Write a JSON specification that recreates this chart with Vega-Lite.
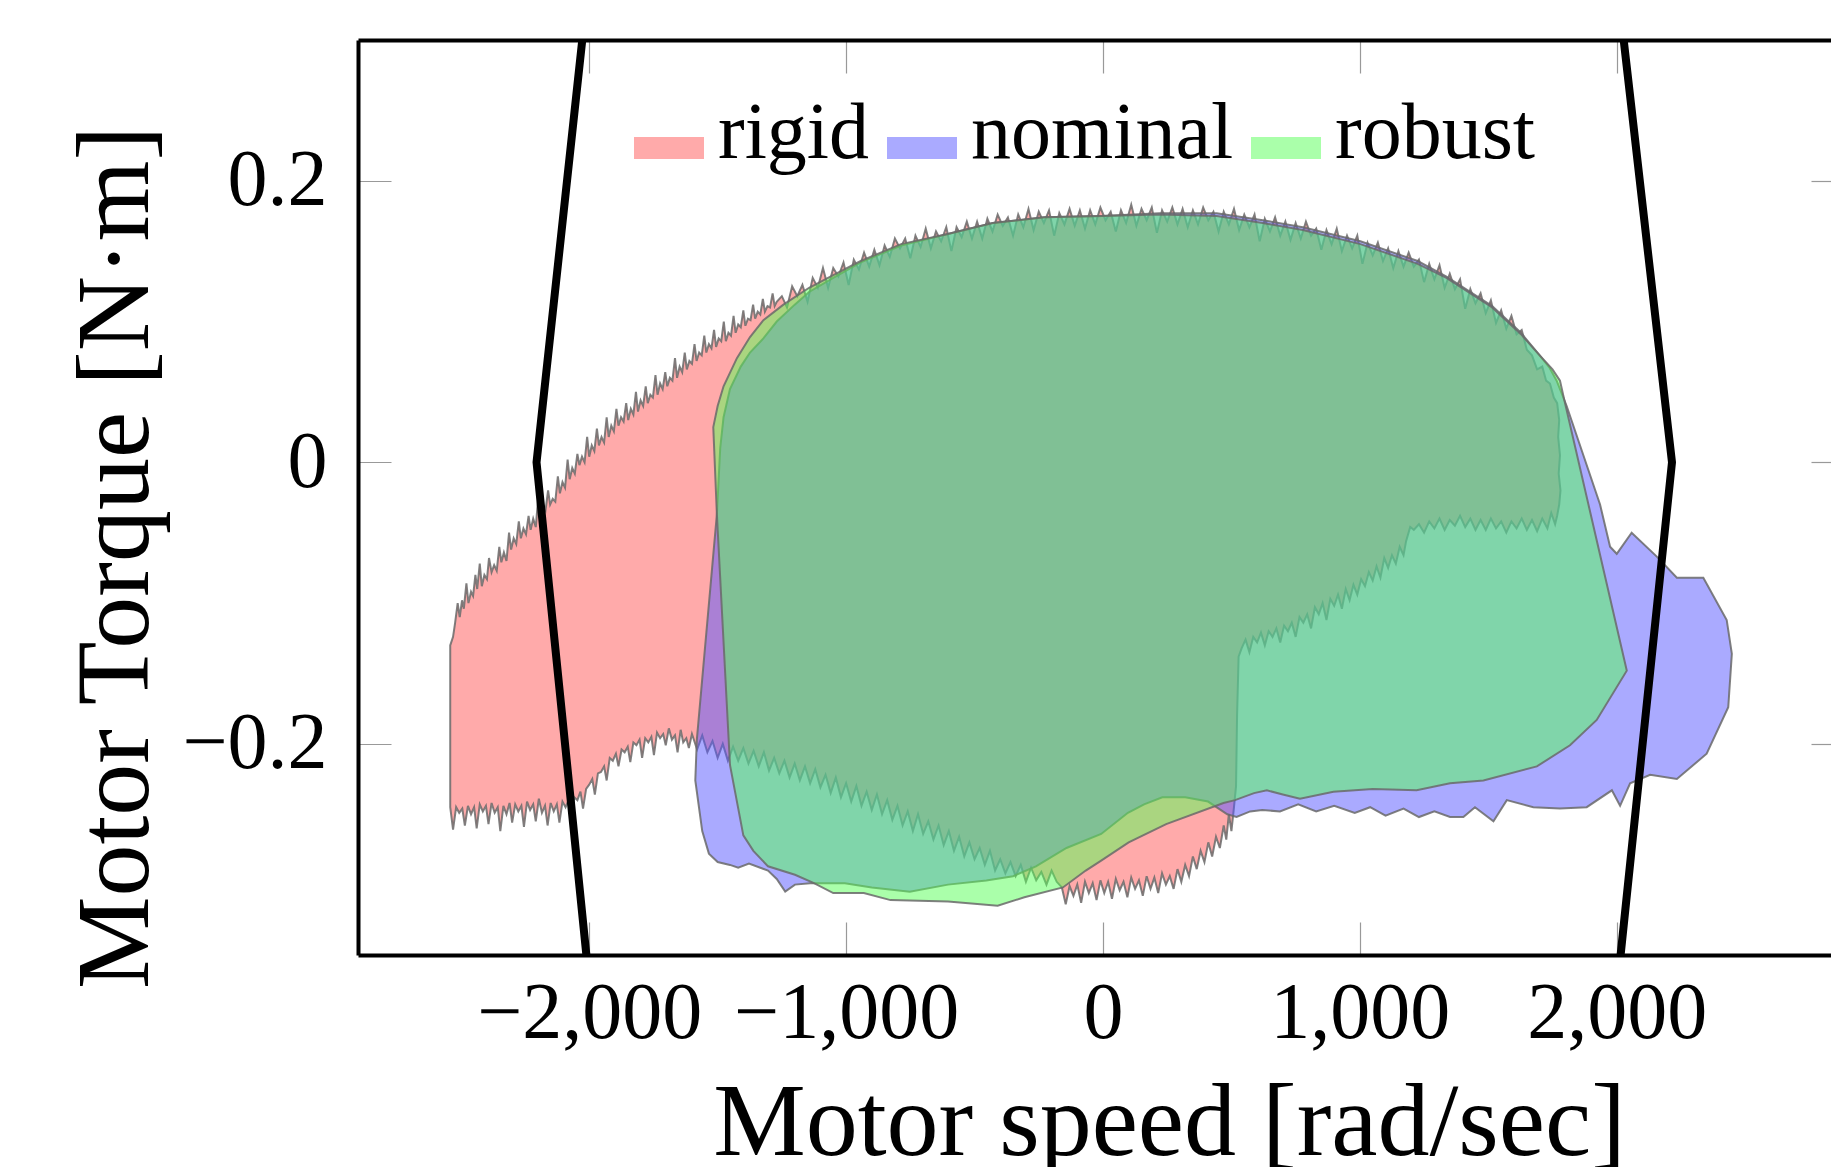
{
"$schema": "https://vega.github.io/schema/vega-lite/v6.json",
"width": 1473,
"height": 915,
"autosize": {"type": "none"},
"padding": {"left": 358, "top": 40, "right": 0, "bottom": 212},
"config": {"view": {"stroke": null}, "font": "Liberation Serif", "background": "white"},
"datasets": {
"poly": [
{"s":"rigid","x":-2541,"y":-0.130},{"s":"rigid","x":-2530,"y":-0.124},{"s":"rigid","x":-2522,"y":-0.114},{"s":"rigid","x":-2512,"y":-0.100},{"s":"rigid","x":-2504,"y":-0.110},{"s":"rigid","x":-2495,"y":-0.098},{"s":"rigid","x":-2488,"y":-0.104},{"s":"rigid","x":-2478,"y":-0.086},{"s":"rigid","x":-2470,"y":-0.100},{"s":"rigid","x":-2460,"y":-0.092},{"s":"rigid","x":-2452,"y":-0.095},{"s":"rigid","x":-2443,"y":-0.080},{"s":"rigid","x":-2436,"y":-0.090},{"s":"rigid","x":-2426,"y":-0.072},{"s":"rigid","x":-2418,"y":-0.088},{"s":"rigid","x":-2408,"y":-0.080},{"s":"rigid","x":-2398,"y":-0.083},{"s":"rigid","x":-2390,"y":-0.068},{"s":"rigid","x":-2380,"y":-0.078},{"s":"rigid","x":-2370,"y":-0.073},{"s":"rigid","x":-2360,"y":-0.077},{"s":"rigid","x":-2350,"y":-0.060},{"s":"rigid","x":-2342,"y":-0.071},{"s":"rigid","x":-2332,"y":-0.064},{"s":"rigid","x":-2322,"y":-0.070},{"s":"rigid","x":-2312,"y":-0.050},{"s":"rigid","x":-2304,"y":-0.062},{"s":"rigid","x":-2294,"y":-0.054},{"s":"rigid","x":-2284,"y":-0.058},{"s":"rigid","x":-2274,"y":-0.042},{"s":"rigid","x":-2266,"y":-0.054},{"s":"rigid","x":-2256,"y":-0.047},{"s":"rigid","x":-2246,"y":-0.051},{"s":"rigid","x":-2236,"y":-0.038},{"s":"rigid","x":-2228,"y":-0.048},{"s":"rigid","x":-2218,"y":-0.040},{"s":"rigid","x":-2208,"y":-0.046},{"s":"rigid","x":-2198,"y":-0.024},{"s":"rigid","x":-2190,"y":-0.040},{"s":"rigid","x":-2180,"y":-0.030},{"s":"rigid","x":-2170,"y":-0.034},{"s":"rigid","x":-2160,"y":-0.020},{"s":"rigid","x":-2152,"y":-0.030},{"s":"rigid","x":-2142,"y":-0.026},{"s":"rigid","x":-2132,"y":-0.028},{"s":"rigid","x":-2122,"y":-0.010},{"s":"rigid","x":-2114,"y":-0.022},{"s":"rigid","x":-2104,"y":-0.014},{"s":"rigid","x":-2094,"y":-0.018},{"s":"rigid","x":-2084,"y":0.002},{"s":"rigid","x":-2076,"y":-0.012},{"s":"rigid","x":-2066,"y":-0.004},{"s":"rigid","x":-2056,"y":-0.008},{"s":"rigid","x":-2046,"y":0.006},{"s":"rigid","x":-2038,"y":-0.002},{"s":"rigid","x":-2028,"y":0.004},{"s":"rigid","x":-2018,"y":0.000},{"s":"rigid","x":-2008,"y":0.018},{"s":"rigid","x":-2000,"y":0.004},{"s":"rigid","x":-1990,"y":0.012},{"s":"rigid","x":-1980,"y":0.008},{"s":"rigid","x":-1970,"y":0.024},{"s":"rigid","x":-1962,"y":0.012},{"s":"rigid","x":-1952,"y":0.018},{"s":"rigid","x":-1942,"y":0.014},{"s":"rigid","x":-1932,"y":0.032},{"s":"rigid","x":-1924,"y":0.018},{"s":"rigid","x":-1914,"y":0.026},{"s":"rigid","x":-1904,"y":0.022},{"s":"rigid","x":-1894,"y":0.038},{"s":"rigid","x":-1886,"y":0.026},{"s":"rigid","x":-1876,"y":0.032},{"s":"rigid","x":-1866,"y":0.029},{"s":"rigid","x":-1856,"y":0.042},{"s":"rigid","x":-1848,"y":0.030},{"s":"rigid","x":-1838,"y":0.038},{"s":"rigid","x":-1828,"y":0.034},{"s":"rigid","x":-1818,"y":0.050},{"s":"rigid","x":-1810,"y":0.036},{"s":"rigid","x":-1800,"y":0.044},{"s":"rigid","x":-1790,"y":0.040},{"s":"rigid","x":-1780,"y":0.054},{"s":"rigid","x":-1772,"y":0.042},{"s":"rigid","x":-1762,"y":0.048},{"s":"rigid","x":-1752,"y":0.046},{"s":"rigid","x":-1742,"y":0.062},{"s":"rigid","x":-1734,"y":0.048},{"s":"rigid","x":-1724,"y":0.056},{"s":"rigid","x":-1714,"y":0.052},{"s":"rigid","x":-1704,"y":0.064},{"s":"rigid","x":-1696,"y":0.054},{"s":"rigid","x":-1686,"y":0.060},{"s":"rigid","x":-1676,"y":0.058},{"s":"rigid","x":-1666,"y":0.074},{"s":"rigid","x":-1658,"y":0.060},{"s":"rigid","x":-1648,"y":0.068},{"s":"rigid","x":-1638,"y":0.064},{"s":"rigid","x":-1628,"y":0.078},{"s":"rigid","x":-1620,"y":0.066},{"s":"rigid","x":-1610,"y":0.072},{"s":"rigid","x":-1600,"y":0.070},{"s":"rigid","x":-1590,"y":0.084},{"s":"rigid","x":-1582,"y":0.072},{"s":"rigid","x":-1572,"y":0.078},{"s":"rigid","x":-1562,"y":0.076},{"s":"rigid","x":-1552,"y":0.090},{"s":"rigid","x":-1544,"y":0.078},{"s":"rigid","x":-1534,"y":0.084},{"s":"rigid","x":-1524,"y":0.081},{"s":"rigid","x":-1514,"y":0.094},{"s":"rigid","x":-1506,"y":0.082},{"s":"rigid","x":-1496,"y":0.088},{"s":"rigid","x":-1486,"y":0.086},{"s":"rigid","x":-1476,"y":0.100},{"s":"rigid","x":-1468,"y":0.086},{"s":"rigid","x":-1458,"y":0.092},{"s":"rigid","x":-1448,"y":0.090},{"s":"rigid","x":-1438,"y":0.104},{"s":"rigid","x":-1430,"y":0.092},{"s":"rigid","x":-1420,"y":0.098},{"s":"rigid","x":-1410,"y":0.096},{"s":"rigid","x":-1400,"y":0.108},{"s":"rigid","x":-1392,"y":0.097},{"s":"rigid","x":-1382,"y":0.102},{"s":"rigid","x":-1372,"y":0.101},{"s":"rigid","x":-1362,"y":0.112},{"s":"rigid","x":-1354,"y":0.102},{"s":"rigid","x":-1344,"y":0.107},{"s":"rigid","x":-1334,"y":0.105},{"s":"rigid","x":-1324,"y":0.116},{"s":"rigid","x":-1316,"y":0.107},{"s":"rigid","x":-1306,"y":0.111},{"s":"rigid","x":-1296,"y":0.110},{"s":"rigid","x":-1286,"y":0.120},{"s":"rigid","x":-1278,"y":0.111},{"s":"rigid","x":-1270,"y":0.114},
{"s":"rigid","x":-1250,"y":0.118},{"s":"rigid","x":-1230,"y":0.110},{"s":"rigid","x":-1210,"y":0.125},{"s":"rigid","x":-1190,"y":0.118},{"s":"rigid","x":-1170,"y":0.126},{"s":"rigid","x":-1150,"y":0.114},{"s":"rigid","x":-1130,"y":0.131},{"s":"rigid","x":-1110,"y":0.124},{"s":"rigid","x":-1090,"y":0.138},{"s":"rigid","x":-1070,"y":0.124},{"s":"rigid","x":-1050,"y":0.138},{"s":"rigid","x":-1030,"y":0.132},{"s":"rigid","x":-1010,"y":0.142},{"s":"rigid","x":-990,"y":0.126},{"s":"rigid","x":-970,"y":0.144},{"s":"rigid","x":-950,"y":0.137},{"s":"rigid","x":-930,"y":0.149},{"s":"rigid","x":-910,"y":0.139},{"s":"rigid","x":-890,"y":0.151},{"s":"rigid","x":-870,"y":0.140},{"s":"rigid","x":-850,"y":0.154},{"s":"rigid","x":-830,"y":0.146},{"s":"rigid","x":-810,"y":0.159},{"s":"rigid","x":-790,"y":0.152},{"s":"rigid","x":-770,"y":0.159},{"s":"rigid","x":-750,"y":0.145},{"s":"rigid","x":-730,"y":0.161},{"s":"rigid","x":-710,"y":0.153},{"s":"rigid","x":-690,"y":0.166},{"s":"rigid","x":-670,"y":0.152},{"s":"rigid","x":-650,"y":0.164},{"s":"rigid","x":-630,"y":0.157},{"s":"rigid","x":-610,"y":0.167},{"s":"rigid","x":-590,"y":0.150},{"s":"rigid","x":-570,"y":0.167},{"s":"rigid","x":-550,"y":0.160},{"s":"rigid","x":-530,"y":0.171},{"s":"rigid","x":-510,"y":0.159},{"s":"rigid","x":-490,"y":0.171},{"s":"rigid","x":-470,"y":0.159},{"s":"rigid","x":-450,"y":0.173},{"s":"rigid","x":-430,"y":0.164},{"s":"rigid","x":-410,"y":0.176},{"s":"rigid","x":-390,"y":0.168},{"s":"rigid","x":-370,"y":0.174},{"s":"rigid","x":-350,"y":0.161},{"s":"rigid","x":-330,"y":0.176},{"s":"rigid","x":-310,"y":0.167},{"s":"rigid","x":-290,"y":0.180},{"s":"rigid","x":-270,"y":0.165},{"s":"rigid","x":-250,"y":0.178},{"s":"rigid","x":-230,"y":0.170},{"s":"rigid","x":-210,"y":0.179},{"s":"rigid","x":-190,"y":0.161},{"s":"rigid","x":-170,"y":0.177},{"s":"rigid","x":-150,"y":0.169},{"s":"rigid","x":-130,"y":0.180},{"s":"rigid","x":-110,"y":0.168},{"s":"rigid","x":-90,"y":0.179},{"s":"rigid","x":-70,"y":0.166},{"s":"rigid","x":-50,"y":0.179},{"s":"rigid","x":-30,"y":0.169},{"s":"rigid","x":-10,"y":0.181},{"s":"rigid","x":10,"y":0.172},{"s":"rigid","x":30,"y":0.178},{"s":"rigid","x":50,"y":0.164},{"s":"rigid","x":70,"y":0.179},{"s":"rigid","x":90,"y":0.170},{"s":"rigid","x":110,"y":0.183},{"s":"rigid","x":130,"y":0.168},{"s":"rigid","x":150,"y":0.180},{"s":"rigid","x":170,"y":0.172},{"s":"rigid","x":190,"y":0.181},{"s":"rigid","x":210,"y":0.163},{"s":"rigid","x":230,"y":0.179},{"s":"rigid","x":250,"y":0.171},{"s":"rigid","x":270,"y":0.181},{"s":"rigid","x":290,"y":0.169},{"s":"rigid","x":310,"y":0.180},{"s":"rigid","x":330,"y":0.167},{"s":"rigid","x":350,"y":0.179},{"s":"rigid","x":370,"y":0.169},{"s":"rigid","x":390,"y":0.181},{"s":"rigid","x":410,"y":0.172},{"s":"rigid","x":430,"y":0.178},{"s":"rigid","x":450,"y":0.164},{"s":"rigid","x":470,"y":0.178},{"s":"rigid","x":490,"y":0.169},{"s":"rigid","x":510,"y":0.180},{"s":"rigid","x":530,"y":0.165},{"s":"rigid","x":550,"y":0.176},{"s":"rigid","x":570,"y":0.167},{"s":"rigid","x":590,"y":0.176},{"s":"rigid","x":610,"y":0.157},{"s":"rigid","x":630,"y":0.173},{"s":"rigid","x":650,"y":0.164},{"s":"rigid","x":670,"y":0.174},{"s":"rigid","x":690,"y":0.161},{"s":"rigid","x":710,"y":0.171},{"s":"rigid","x":730,"y":0.158},{"s":"rigid","x":750,"y":0.170},{"s":"rigid","x":770,"y":0.159},{"s":"rigid","x":790,"y":0.171},{"s":"rigid","x":810,"y":0.161},{"s":"rigid","x":830,"y":0.166},{"s":"rigid","x":850,"y":0.151},{"s":"rigid","x":870,"y":0.165},{"s":"rigid","x":890,"y":0.155},{"s":"rigid","x":910,"y":0.166},{"s":"rigid","x":930,"y":0.150},{"s":"rigid","x":950,"y":0.161},{"s":"rigid","x":970,"y":0.152},{"s":"rigid","x":990,"y":0.161},{"s":"rigid","x":1010,"y":0.141},{"s":"rigid","x":1030,"y":0.156},{"s":"rigid","x":1050,"y":0.147},{"s":"rigid","x":1070,"y":0.156},{"s":"rigid","x":1090,"y":0.143},{"s":"rigid","x":1110,"y":0.152},{"s":"rigid","x":1130,"y":0.138},{"s":"rigid","x":1150,"y":0.150},{"s":"rigid","x":1170,"y":0.139},{"s":"rigid","x":1190,"y":0.149},{"s":"rigid","x":1210,"y":0.139},{"s":"rigid","x":1230,"y":0.144},{"s":"rigid","x":1250,"y":0.128},{"s":"rigid","x":1270,"y":0.141},{"s":"rigid","x":1290,"y":0.130},{"s":"rigid","x":1310,"y":0.140},{"s":"rigid","x":1330,"y":0.124},{"s":"rigid","x":1350,"y":0.134},{"s":"rigid","x":1370,"y":0.123},{"s":"rigid","x":1390,"y":0.130},{"s":"rigid","x":1410,"y":0.109},{"s":"rigid","x":1430,"y":0.123},{"s":"rigid","x":1450,"y":0.113},{"s":"rigid","x":1470,"y":0.120},{"s":"rigid","x":1490,"y":0.106},{"s":"rigid","x":1510,"y":0.115},{"s":"rigid","x":1530,"y":0.099},{"s":"rigid","x":1550,"y":0.108},{"s":"rigid","x":1570,"y":0.095},{"s":"rigid","x":1590,"y":0.104},{"s":"rigid","x":1610,"y":0.091},{"s":"rigid","x":1630,"y":0.094},{"s":"rigid","x":1650,"y":0.080},
{"s":"rigid","x":1670,"y":0.076},{"s":"rigid","x":1690,"y":0.066},{"s":"rigid","x":1710,"y":0.068},{"s":"rigid","x":1725,"y":0.058},{"s":"rigid","x":1740,"y":0.056},{"s":"rigid","x":1755,"y":0.046},{"s":"rigid","x":1768,"y":0.042},{"s":"rigid","x":1776,"y":0.030},{"s":"rigid","x":1772,"y":0.018},{"s":"rigid","x":1779,"y":0.005},{"s":"rigid","x":1774,"y":-0.008},{"s":"rigid","x":1781,"y":-0.020},{"s":"rigid","x":1776,"y":-0.030},{"s":"rigid","x":1768,"y":-0.038},{"s":"rigid","x":1760,"y":-0.044},
{"s":"rigid","x":1745,"y":-0.036},{"s":"rigid","x":1730,"y":-0.047},{"s":"rigid","x":1710,"y":-0.040},{"s":"rigid","x":1690,"y":-0.049},{"s":"rigid","x":1670,"y":-0.041},{"s":"rigid","x":1650,"y":-0.048},{"s":"rigid","x":1630,"y":-0.040},{"s":"rigid","x":1610,"y":-0.047},{"s":"rigid","x":1590,"y":-0.042},{"s":"rigid","x":1570,"y":-0.050},{"s":"rigid","x":1550,"y":-0.042},{"s":"rigid","x":1530,"y":-0.047},{"s":"rigid","x":1510,"y":-0.040},{"s":"rigid","x":1490,"y":-0.048},{"s":"rigid","x":1470,"y":-0.041},{"s":"rigid","x":1450,"y":-0.048},{"s":"rigid","x":1430,"y":-0.040},{"s":"rigid","x":1410,"y":-0.046},{"s":"rigid","x":1390,"y":-0.038},{"s":"rigid","x":1370,"y":-0.045},{"s":"rigid","x":1350,"y":-0.041},{"s":"rigid","x":1330,"y":-0.048},{"s":"rigid","x":1310,"y":-0.040},{"s":"rigid","x":1290,"y":-0.047},{"s":"rigid","x":1270,"y":-0.042},{"s":"rigid","x":1250,"y":-0.050},{"s":"rigid","x":1230,"y":-0.044},{"s":"rigid","x":1210,"y":-0.048},{"s":"rigid","x":1196,"y":-0.046},
{"s":"rigid","x":1180,"y":-0.056},{"s":"rigid","x":1170,"y":-0.066},{"s":"rigid","x":1155,"y":-0.060},{"s":"rigid","x":1140,"y":-0.072},{"s":"rigid","x":1125,"y":-0.066},{"s":"rigid","x":1110,"y":-0.075},{"s":"rigid","x":1095,"y":-0.068},{"s":"rigid","x":1080,"y":-0.082},{"s":"rigid","x":1065,"y":-0.074},{"s":"rigid","x":1050,"y":-0.084},{"s":"rigid","x":1035,"y":-0.078},{"s":"rigid","x":1020,"y":-0.088},{"s":"rigid","x":1005,"y":-0.083},{"s":"rigid","x":990,"y":-0.094},{"s":"rigid","x":975,"y":-0.087},{"s":"rigid","x":960,"y":-0.098},{"s":"rigid","x":945,"y":-0.090},{"s":"rigid","x":930,"y":-0.104},{"s":"rigid","x":915,"y":-0.094},{"s":"rigid","x":900,"y":-0.102},{"s":"rigid","x":885,"y":-0.097},{"s":"rigid","x":870,"y":-0.112},{"s":"rigid","x":855,"y":-0.100},{"s":"rigid","x":840,"y":-0.108},{"s":"rigid","x":825,"y":-0.103},{"s":"rigid","x":810,"y":-0.118},{"s":"rigid","x":795,"y":-0.108},{"s":"rigid","x":780,"y":-0.114},{"s":"rigid","x":765,"y":-0.110},{"s":"rigid","x":750,"y":-0.124},{"s":"rigid","x":735,"y":-0.114},{"s":"rigid","x":720,"y":-0.120},{"s":"rigid","x":705,"y":-0.116},{"s":"rigid","x":690,"y":-0.128},{"s":"rigid","x":675,"y":-0.118},{"s":"rigid","x":660,"y":-0.124},{"s":"rigid","x":645,"y":-0.120},{"s":"rigid","x":630,"y":-0.130},{"s":"rigid","x":615,"y":-0.121},{"s":"rigid","x":600,"y":-0.128},{"s":"rigid","x":585,"y":-0.124},{"s":"rigid","x":570,"y":-0.135},{"s":"rigid","x":555,"y":-0.126},{"s":"rigid","x":540,"y":-0.132},{"s":"rigid","x":528,"y":-0.138},
{"s":"rigid","x":522,"y":-0.180},{"s":"rigid","x":518,"y":-0.230},{"s":"rigid","x":510,"y":-0.245},
{"s":"rigid","x":500,"y":-0.262},{"s":"rigid","x":490,"y":-0.250},{"s":"rigid","x":480,"y":-0.268},{"s":"rigid","x":470,"y":-0.258},{"s":"rigid","x":455,"y":-0.274},{"s":"rigid","x":440,"y":-0.266},{"s":"rigid","x":425,"y":-0.280},{"s":"rigid","x":410,"y":-0.270},{"s":"rigid","x":395,"y":-0.284},{"s":"rigid","x":380,"y":-0.276},{"s":"rigid","x":365,"y":-0.289},{"s":"rigid","x":350,"y":-0.280},{"s":"rigid","x":335,"y":-0.294},{"s":"rigid","x":320,"y":-0.286},{"s":"rigid","x":305,"y":-0.298},{"s":"rigid","x":290,"y":-0.289},{"s":"rigid","x":275,"y":-0.303},{"s":"rigid","x":260,"y":-0.294},{"s":"rigid","x":245,"y":-0.300},{"s":"rigid","x":230,"y":-0.292},{"s":"rigid","x":215,"y":-0.306},{"s":"rigid","x":200,"y":-0.295},{"s":"rigid","x":185,"y":-0.303},{"s":"rigid","x":170,"y":-0.294},{"s":"rigid","x":155,"y":-0.308},{"s":"rigid","x":140,"y":-0.297},{"s":"rigid","x":125,"y":-0.303},{"s":"rigid","x":110,"y":-0.295},{"s":"rigid","x":95,"y":-0.309},{"s":"rigid","x":80,"y":-0.298},{"s":"rigid","x":65,"y":-0.304},{"s":"rigid","x":50,"y":-0.296},{"s":"rigid","x":35,"y":-0.310},{"s":"rigid","x":20,"y":-0.298},{"s":"rigid","x":5,"y":-0.306},{"s":"rigid","x":-10,"y":-0.297},{"s":"rigid","x":-25,"y":-0.311},{"s":"rigid","x":-40,"y":-0.299},{"s":"rigid","x":-55,"y":-0.306},{"s":"rigid","x":-70,"y":-0.298},{"s":"rigid","x":-85,"y":-0.313},{"s":"rigid","x":-100,"y":-0.300},{"s":"rigid","x":-115,"y":-0.308},{"s":"rigid","x":-130,"y":-0.301},{"s":"rigid","x":-145,"y":-0.314},{"s":"rigid","x":-160,"y":-0.302},
{"s":"rigid","x":-180,"y":-0.298},{"s":"rigid","x":-200,"y":-0.290},{"s":"rigid","x":-220,"y":-0.300},{"s":"rigid","x":-240,"y":-0.291},{"s":"rigid","x":-260,"y":-0.297},{"s":"rigid","x":-280,"y":-0.288},{"s":"rigid","x":-300,"y":-0.298},{"s":"rigid","x":-320,"y":-0.286},{"s":"rigid","x":-340,"y":-0.294},{"s":"rigid","x":-360,"y":-0.284},{"s":"rigid","x":-380,"y":-0.292},{"s":"rigid","x":-400,"y":-0.282},{"s":"rigid","x":-420,"y":-0.290},{"s":"rigid","x":-440,"y":-0.276},{"s":"rigid","x":-460,"y":-0.286},{"s":"rigid","x":-480,"y":-0.274},{"s":"rigid","x":-500,"y":-0.282},{"s":"rigid","x":-520,"y":-0.270},{"s":"rigid","x":-540,"y":-0.280},{"s":"rigid","x":-560,"y":-0.266},{"s":"rigid","x":-580,"y":-0.276},{"s":"rigid","x":-600,"y":-0.262},{"s":"rigid","x":-620,"y":-0.272},{"s":"rigid","x":-640,"y":-0.258},{"s":"rigid","x":-660,"y":-0.268},{"s":"rigid","x":-680,"y":-0.255},{"s":"rigid","x":-700,"y":-0.264},{"s":"rigid","x":-720,"y":-0.250},{"s":"rigid","x":-740,"y":-0.262},{"s":"rigid","x":-760,"y":-0.248},{"s":"rigid","x":-780,"y":-0.258},{"s":"rigid","x":-800,"y":-0.244},{"s":"rigid","x":-820,"y":-0.254},{"s":"rigid","x":-840,"y":-0.240},{"s":"rigid","x":-860,"y":-0.250},{"s":"rigid","x":-880,"y":-0.236},{"s":"rigid","x":-900,"y":-0.247},{"s":"rigid","x":-920,"y":-0.234},{"s":"rigid","x":-940,"y":-0.244},{"s":"rigid","x":-960,"y":-0.230},{"s":"rigid","x":-980,"y":-0.241},{"s":"rigid","x":-1000,"y":-0.228},{"s":"rigid","x":-1020,"y":-0.238},{"s":"rigid","x":-1040,"y":-0.224},{"s":"rigid","x":-1060,"y":-0.235},{"s":"rigid","x":-1080,"y":-0.222},{"s":"rigid","x":-1100,"y":-0.231},{"s":"rigid","x":-1120,"y":-0.218},{"s":"rigid","x":-1140,"y":-0.228},{"s":"rigid","x":-1160,"y":-0.216},{"s":"rigid","x":-1180,"y":-0.226},{"s":"rigid","x":-1200,"y":-0.214},{"s":"rigid","x":-1220,"y":-0.224},{"s":"rigid","x":-1240,"y":-0.212},{"s":"rigid","x":-1260,"y":-0.221},{"s":"rigid","x":-1280,"y":-0.210},{"s":"rigid","x":-1300,"y":-0.219},{"s":"rigid","x":-1320,"y":-0.206},{"s":"rigid","x":-1340,"y":-0.216},{"s":"rigid","x":-1360,"y":-0.205},{"s":"rigid","x":-1380,"y":-0.214},{"s":"rigid","x":-1400,"y":-0.203},{"s":"rigid","x":-1420,"y":-0.212},{"s":"rigid","x":-1440,"y":-0.202},{"s":"rigid","x":-1460,"y":-0.212},{"s":"rigid","x":-1480,"y":-0.200},{"s":"rigid","x":-1500,"y":-0.210},{"s":"rigid","x":-1520,"y":-0.198},{"s":"rigid","x":-1540,"y":-0.206},{"s":"rigid","x":-1560,"y":-0.194},{"s":"rigid","x":-1580,"y":-0.204},
{"s":"rigid","x":-1600,"y":-0.193},{"s":"rigid","x":-1612,"y":-0.203},{"s":"rigid","x":-1622,"y":-0.196},{"s":"rigid","x":-1634,"y":-0.199},{"s":"rigid","x":-1644,"y":-0.190},{"s":"rigid","x":-1656,"y":-0.206},{"s":"rigid","x":-1666,"y":-0.194},{"s":"rigid","x":-1678,"y":-0.197},{"s":"rigid","x":-1690,"y":-0.189},{"s":"rigid","x":-1702,"y":-0.201},{"s":"rigid","x":-1712,"y":-0.193},{"s":"rigid","x":-1724,"y":-0.196},{"s":"rigid","x":-1736,"y":-0.192},{"s":"rigid","x":-1748,"y":-0.208},{"s":"rigid","x":-1758,"y":-0.195},{"s":"rigid","x":-1770,"y":-0.199},{"s":"rigid","x":-1782,"y":-0.196},{"s":"rigid","x":-1794,"y":-0.210},{"s":"rigid","x":-1804,"y":-0.197},{"s":"rigid","x":-1816,"y":-0.201},{"s":"rigid","x":-1828,"y":-0.199},{"s":"rigid","x":-1840,"y":-0.213},{"s":"rigid","x":-1850,"y":-0.202},{"s":"rigid","x":-1862,"y":-0.206},{"s":"rigid","x":-1874,"y":-0.204},{"s":"rigid","x":-1886,"y":-0.216},{"s":"rigid","x":-1896,"y":-0.207},{"s":"rigid","x":-1908,"y":-0.212},{"s":"rigid","x":-1920,"y":-0.210},{"s":"rigid","x":-1932,"y":-0.226},{"s":"rigid","x":-1942,"y":-0.216},{"s":"rigid","x":-1954,"y":-0.220},{"s":"rigid","x":-1966,"y":-0.221},{"s":"rigid","x":-1978,"y":-0.236},{"s":"rigid","x":-1988,"y":-0.225},{"s":"rigid","x":-2000,"y":-0.229},{"s":"rigid","x":-2012,"y":-0.232},{"s":"rigid","x":-2024,"y":-0.246},{"s":"rigid","x":-2034,"y":-0.234},{"s":"rigid","x":-2046,"y":-0.240},{"s":"rigid","x":-2058,"y":-0.238},{"s":"rigid","x":-2070,"y":-0.252},{"s":"rigid","x":-2080,"y":-0.240},{"s":"rigid","x":-2092,"y":-0.245},{"s":"rigid","x":-2104,"y":-0.241},{"s":"rigid","x":-2116,"y":-0.256},{"s":"rigid","x":-2126,"y":-0.243},{"s":"rigid","x":-2138,"y":-0.248},{"s":"rigid","x":-2150,"y":-0.242},{"s":"rigid","x":-2162,"y":-0.258},{"s":"rigid","x":-2172,"y":-0.244},{"s":"rigid","x":-2184,"y":-0.249},{"s":"rigid","x":-2196,"y":-0.239},{"s":"rigid","x":-2208,"y":-0.255},{"s":"rigid","x":-2218,"y":-0.243},{"s":"rigid","x":-2230,"y":-0.247},{"s":"rigid","x":-2242,"y":-0.241},{"s":"rigid","x":-2254,"y":-0.259},{"s":"rigid","x":-2264,"y":-0.244},{"s":"rigid","x":-2276,"y":-0.248},{"s":"rigid","x":-2288,"y":-0.243},{"s":"rigid","x":-2300,"y":-0.256},{"s":"rigid","x":-2310,"y":-0.242},{"s":"rigid","x":-2322,"y":-0.250},{"s":"rigid","x":-2334,"y":-0.244},{"s":"rigid","x":-2346,"y":-0.262},{"s":"rigid","x":-2356,"y":-0.245},{"s":"rigid","x":-2368,"y":-0.249},{"s":"rigid","x":-2380,"y":-0.242},{"s":"rigid","x":-2392,"y":-0.257},{"s":"rigid","x":-2402,"y":-0.244},{"s":"rigid","x":-2414,"y":-0.248},{"s":"rigid","x":-2426,"y":-0.243},{"s":"rigid","x":-2438,"y":-0.260},{"s":"rigid","x":-2448,"y":-0.245},{"s":"rigid","x":-2460,"y":-0.250},{"s":"rigid","x":-2472,"y":-0.244},{"s":"rigid","x":-2484,"y":-0.258},{"s":"rigid","x":-2494,"y":-0.246},{"s":"rigid","x":-2506,"y":-0.249},{"s":"rigid","x":-2518,"y":-0.245},{"s":"rigid","x":-2530,"y":-0.261},{"s":"rigid","x":-2541,"y":-0.245},
{"s":"nominal","x":-1503,"y":-0.037},{"s":"nominal","x":-1490,"y":0.010},{"s":"nominal","x":-1477,"y":0.032},{"s":"nominal","x":-1452,"y":0.052},{"s":"nominal","x":-1410,"y":0.068},{"s":"nominal","x":-1374,"y":0.078},{"s":"nominal","x":-1322,"y":0.088},{"s":"nominal","x":-1270,"y":0.100},{"s":"nominal","x":-1200,"y":0.112},{"s":"nominal","x":-1144,"y":0.121},{"s":"nominal","x":-1050,"y":0.131},{"s":"nominal","x":-943,"y":0.142},{"s":"nominal","x":-786,"y":0.154},{"s":"nominal","x":-608,"y":0.162},{"s":"nominal","x":-429,"y":0.170},{"s":"nominal","x":-228,"y":0.174},{"s":"nominal","x":-4,"y":0.175},{"s":"nominal","x":219,"y":0.177},{"s":"nominal","x":443,"y":0.177},{"s":"nominal","x":622,"y":0.172},{"s":"nominal","x":778,"y":0.167},{"s":"nominal","x":1002,"y":0.157},{"s":"nominal","x":1225,"y":0.143},{"s":"nominal","x":1337,"y":0.132},{"s":"nominal","x":1515,"y":0.111},{"s":"nominal","x":1627,"y":0.092},{"s":"nominal","x":1700,"y":0.076},{"s":"nominal","x":1739,"y":0.067},{"s":"nominal","x":1766,"y":0.058},{"s":"nominal","x":1805,"y":0.040},{"s":"nominal","x":1870,"y":0.005},{"s":"nominal","x":1935,"y":-0.030},{"s":"nominal","x":1974,"y":-0.060},{"s":"nominal","x":2000,"y":-0.065},{"s":"nominal","x":2058,"y":-0.050},{"s":"nominal","x":2156,"y":-0.067},{"s":"nominal","x":2234,"y":-0.082},{"s":"nominal","x":2337,"y":-0.082},{"s":"nominal","x":2428,"y":-0.112},{"s":"nominal","x":2448,"y":-0.136},{"s":"nominal","x":2434,"y":-0.174},{"s":"nominal","x":2350,"y":-0.207},{"s":"nominal","x":2234,"y":-0.225},{"s":"nominal","x":2130,"y":-0.222},{"s":"nominal","x":2052,"y":-0.228},{"s":"nominal","x":2013,"y":-0.244},{"s":"nominal","x":1981,"y":-0.233},{"s":"nominal","x":1883,"y":-0.245},{"s":"nominal","x":1779,"y":-0.246},{"s":"nominal","x":1675,"y":-0.245},{"s":"nominal","x":1572,"y":-0.240},{"s":"nominal","x":1520,"y":-0.255},{"s":"nominal","x":1448,"y":-0.245},{"s":"nominal","x":1403,"y":-0.252},{"s":"nominal","x":1351,"y":-0.252},{"s":"nominal","x":1290,"y":-0.248},{"s":"nominal","x":1230,"y":-0.252},{"s":"nominal","x":1170,"y":-0.246},{"s":"nominal","x":1100,"y":-0.251},{"s":"nominal","x":1040,"y":-0.245},{"s":"nominal","x":980,"y":-0.249},{"s":"nominal","x":900,"y":-0.244},{"s":"nominal","x":830,"y":-0.248},{"s":"nominal","x":760,"y":-0.243},{"s":"nominal","x":689,"y":-0.248},{"s":"nominal","x":620,"y":-0.247},{"s":"nominal","x":573,"y":-0.248},{"s":"nominal","x":520,"y":-0.252},{"s":"nominal","x":484,"y":-0.250},{"s":"nominal","x":409,"y":-0.241},{"s":"nominal","x":320,"y":-0.238},{"s":"nominal","x":231,"y":-0.238},{"s":"nominal","x":160,"y":-0.243},{"s":"nominal","x":97,"y":-0.249},{"s":"nominal","x":-7,"y":-0.264},{"s":"nominal","x":-142,"y":-0.274},{"s":"nominal","x":-261,"y":-0.287},{"s":"nominal","x":-350,"y":-0.294},{"s":"nominal","x":-454,"y":-0.297},{"s":"nominal","x":-603,"y":-0.300},{"s":"nominal","x":-752,"y":-0.305},{"s":"nominal","x":-900,"y":-0.302},{"s":"nominal","x":-1005,"y":-0.299},{"s":"nominal","x":-1140,"y":-0.299},{"s":"nominal","x":-1199,"y":-0.300},{"s":"nominal","x":-1237,"y":-0.305},{"s":"nominal","x":-1270,"y":-0.296},{"s":"nominal","x":-1304,"y":-0.290},{"s":"nominal","x":-1378,"y":-0.285},{"s":"nominal","x":-1420,"y":-0.288},{"s":"nominal","x":-1452,"y":-0.286},{"s":"nominal","x":-1500,"y":-0.284},{"s":"nominal","x":-1534,"y":-0.278},{"s":"nominal","x":-1560,"y":-0.262},{"s":"nominal","x":-1587,"y":-0.226},{"s":"nominal","x":-1581,"y":-0.197},
{"s":"robust","x":-1517,"y":0.025},{"s":"robust","x":-1500,"y":0.040},{"s":"robust","x":-1477,"y":0.054},{"s":"robust","x":-1425,"y":0.074},{"s":"robust","x":-1374,"y":0.089},{"s":"robust","x":-1322,"y":0.101},{"s":"robust","x":-1244,"y":0.112},{"s":"robust","x":-1144,"y":0.124},{"s":"robust","x":-1050,"y":0.133},{"s":"robust","x":-943,"y":0.143},{"s":"robust","x":-786,"y":0.155},{"s":"robust","x":-608,"y":0.162},{"s":"robust","x":-429,"y":0.170},{"s":"robust","x":-228,"y":0.174},{"s":"robust","x":-4,"y":0.175},{"s":"robust","x":219,"y":0.176},{"s":"robust","x":443,"y":0.175},{"s":"robust","x":622,"y":0.170},{"s":"robust","x":778,"y":0.165},{"s":"robust","x":1002,"y":0.155},{"s":"robust","x":1225,"y":0.141},{"s":"robust","x":1337,"y":0.131},{"s":"robust","x":1515,"y":0.110},{"s":"robust","x":1627,"y":0.091},{"s":"robust","x":1700,"y":0.076},{"s":"robust","x":1750,"y":0.066},{"s":"robust","x":1779,"y":0.058},{"s":"robust","x":1795,"y":0.045},{"s":"robust","x":2039,"y":-0.148},{"s":"robust","x":1922,"y":-0.183},{"s":"robust","x":1818,"y":-0.201},{"s":"robust","x":1689,"y":-0.216},{"s":"robust","x":1481,"y":-0.226},{"s":"robust","x":1351,"y":-0.228},{"s":"robust","x":1221,"y":-0.233},{"s":"robust","x":1050,"y":-0.232},{"s":"robust","x":897,"y":-0.234},{"s":"robust","x":767,"y":-0.239},{"s":"robust","x":700,"y":-0.236},{"s":"robust","x":638,"y":-0.233},{"s":"robust","x":588,"y":-0.235},{"s":"robust","x":514,"y":-0.240},{"s":"robust","x":469,"y":-0.242},{"s":"robust","x":246,"y":-0.257},{"s":"robust","x":100,"y":-0.270},{"s":"robust","x":-7,"y":-0.283},{"s":"robust","x":-67,"y":-0.290},{"s":"robust","x":-156,"y":-0.302},{"s":"robust","x":-306,"y":-0.309},{"s":"robust","x":-410,"y":-0.315},{"s":"robust","x":-603,"y":-0.312},{"s":"robust","x":-827,"y":-0.311},{"s":"robust","x":-931,"y":-0.306},{"s":"robust","x":-1050,"y":-0.306},{"s":"robust","x":-1125,"y":-0.299},{"s":"robust","x":-1199,"y":-0.293},{"s":"robust","x":-1304,"y":-0.287},{"s":"robust","x":-1361,"y":-0.276},{"s":"robust","x":-1400,"y":-0.265},{"s":"robust","x":-1452,"y":-0.215},{"s":"robust","x":-1503,"y":-0.037}
],
"lim": [
{"g":"L","x":-2027,"y":0.3},{"g":"L","x":-2205,"y":0},{"g":"L","x":-2011,"y":-0.35},
{"g":"R","x":2027,"y":0.3},{"g":"R","x":2215,"y":0},{"g":"R","x":2015,"y":-0.35}
]
},
"layer": [
{
"data": {"name": "poly"},
"transform": [{"filter": "datum.s == 'rigid'"}],
"mark": {"type": "line", "interpolate": "linear-closed", "fillOpacity": 0.5, "stroke": "#6a6a6a", "strokeWidth": 2, "strokeOpacity": 0.85, "clip": true},
"encoding": {
"x": {"field": "x", "type": "quantitative", "scale": {"domain": [-2900, 2834], "nice": false, "zero": false},
"axis": {"orient": "bottom", "values": [-2000, -1000, 0, 1000, 2000], "labelExpr": "format(datum.value, ',')", "grid": false, "tickSize": -33, "tickColor": "#999999", "tickWidth": 1.2, "domainColor": "black", "domainWidth": 4, "labelFont": "Liberation Serif", "labelFontSize": 80, "labelColor": "black", "labelPadding": 115, "labelBaseline": "alphabetic", "labelFlush": false, "labelOverlap": false, "labelBound": false, "labelLimit": 0, "title": "Motor speed [rad/sec]", "titleFont": "Liberation Serif", "titleFontSize": 104, "titleFontWeight": "normal", "titleColor": "black", "titleX": 811, "titleY": 199, "titleBaseline": "alphabetic", "titleAlign": "center", "titleAnchor": null}},
"y": {"field": "y", "type": "quantitative", "scale": {"domain": [-0.35, 0.3], "nice": false, "zero": false},
"axis": {"orient": "left", "values": [-0.2, 0, 0.2], "labelExpr": "datum.value == 0 ? '0' : format(datum.value, '.1f')", "grid": false, "tickSize": -33, "tickColor": "#999999", "tickWidth": 1.2, "domainColor": "black", "domainWidth": 4, "labelFont": "Liberation Serif", "labelFontSize": 80, "labelColor": "black", "labelPadding": 64, "labelFlush": false, "labelOverlap": false, "labelBound": false, "labelLimit": 0, "title": "Motor Torque [N·m]", "titleFont": "Liberation Serif", "titleFontSize": 104, "titleFontWeight": "normal", "titleColor": "black", "titleX": -211, "titleY": 517, "titleBaseline": "alphabetic", "titleAlign": "center", "titleAngle": -90}},
"fill": {"field": "s", "type": "nominal", "scale": {"domain": ["rigid", "nominal", "robust"], "range": ["#ff5555", "#5555ff", "#55ff55"]},
"legend": {"orient": "none", "legendX": 271, "legendY": 78, "direction": "horizontal", "columns": 3, "title": null, "symbolType": "M-1,-0.6H1V0.03H-1Z", "symbolSize": 4900, "symbolOpacity": 0.5, "symbolStrokeWidth": 0, "labelFont": "Liberation Serif", "labelFontSize": 80, "labelColor": "black", "labelOffset": 9, "columnPadding": 12, "padding": 0, "labelBaseline": "alphabetic", "labelLimit": 0}},
"order": {"value": null}
}
},
{
"data": {"name": "poly"},
"transform": [{"filter": "datum.s == 'nominal'"}],
"mark": {"type": "line", "interpolate": "linear-closed", "fillOpacity": 0.5, "stroke": "#6a6a6a", "strokeWidth": 2, "strokeOpacity": 0.85, "clip": true},
"encoding": {
"x": {"field": "x", "type": "quantitative", "scale": {"domain": [-2900, 2834], "nice": false, "zero": false},
"axis": {"orient": "top", "values": [-2000, -1000, 0, 1000, 2000], "labels": false, "grid": false, "tickSize": -33, "tickColor": "#999999", "tickWidth": 1.2, "domainColor": "black", "domainWidth": 4, "title": null}},
"y": {"field": "y", "type": "quantitative", "scale": {"domain": [-0.35, 0.3], "nice": false, "zero": false},
"axis": {"orient": "right", "values": [-0.2, 0, 0.2], "labels": false, "grid": false, "tickSize": -20, "tickColor": "#999999", "tickWidth": 1.2, "domain": false, "title": null}},
"fill": {"field": "s", "type": "nominal", "scale": {"domain": ["rigid", "nominal", "robust"], "range": ["#ff5555", "#5555ff", "#55ff55"]},
"legend": {"orient": "none", "legendX": 271, "legendY": 78, "direction": "horizontal", "columns": 3, "title": null, "symbolType": "M-1,-0.6H1V0.03H-1Z", "symbolSize": 4900, "symbolOpacity": 0.5, "symbolStrokeWidth": 0, "labelFont": "Liberation Serif", "labelFontSize": 80, "labelColor": "black", "labelOffset": 9, "columnPadding": 12, "padding": 0, "labelBaseline": "alphabetic", "labelLimit": 0}},
"order": {"value": null}
}
},
{
"data": {"name": "poly"},
"transform": [{"filter": "datum.s == 'robust'"}],
"mark": {"type": "line", "interpolate": "linear-closed", "fillOpacity": 0.5, "stroke": "#6a6a6a", "strokeWidth": 2, "strokeOpacity": 0.85, "clip": true},
"encoding": {
"x": {"field": "x", "type": "quantitative", "scale": {"domain": [-2900, 2834], "nice": false, "zero": false}, "axis": null},
"y": {"field": "y", "type": "quantitative", "scale": {"domain": [-0.35, 0.3], "nice": false, "zero": false}, "axis": null},
"fill": {"field": "s", "type": "nominal", "scale": {"domain": ["rigid", "nominal", "robust"], "range": ["#ff5555", "#5555ff", "#55ff55"]},
"legend": {"orient": "none", "legendX": 271, "legendY": 78, "direction": "horizontal", "columns": 3, "title": null, "symbolType": "M-1,-0.6H1V0.03H-1Z", "symbolSize": 4900, "symbolOpacity": 0.5, "symbolStrokeWidth": 0, "labelFont": "Liberation Serif", "labelFontSize": 80, "labelColor": "black", "labelOffset": 9, "columnPadding": 12, "padding": 0, "labelBaseline": "alphabetic", "labelLimit": 0}},
"order": {"value": null}
}
},
{
"data": {"name": "lim"},
"mark": {"type": "line", "color": "black", "strokeWidth": 8, "clip": true},
"encoding": {
"x": {"field": "x", "type": "quantitative", "scale": {"domain": [-2900, 2834], "nice": false, "zero": false}, "axis": null},
"y": {"field": "y", "type": "quantitative", "scale": {"domain": [-0.35, 0.3], "nice": false, "zero": false}, "axis": null},
"detail": {"field": "g", "type": "nominal"},
"order": {"value": null}
}
}
],
"resolve": {"axis": {"x": "independent", "y": "independent"}}
}
